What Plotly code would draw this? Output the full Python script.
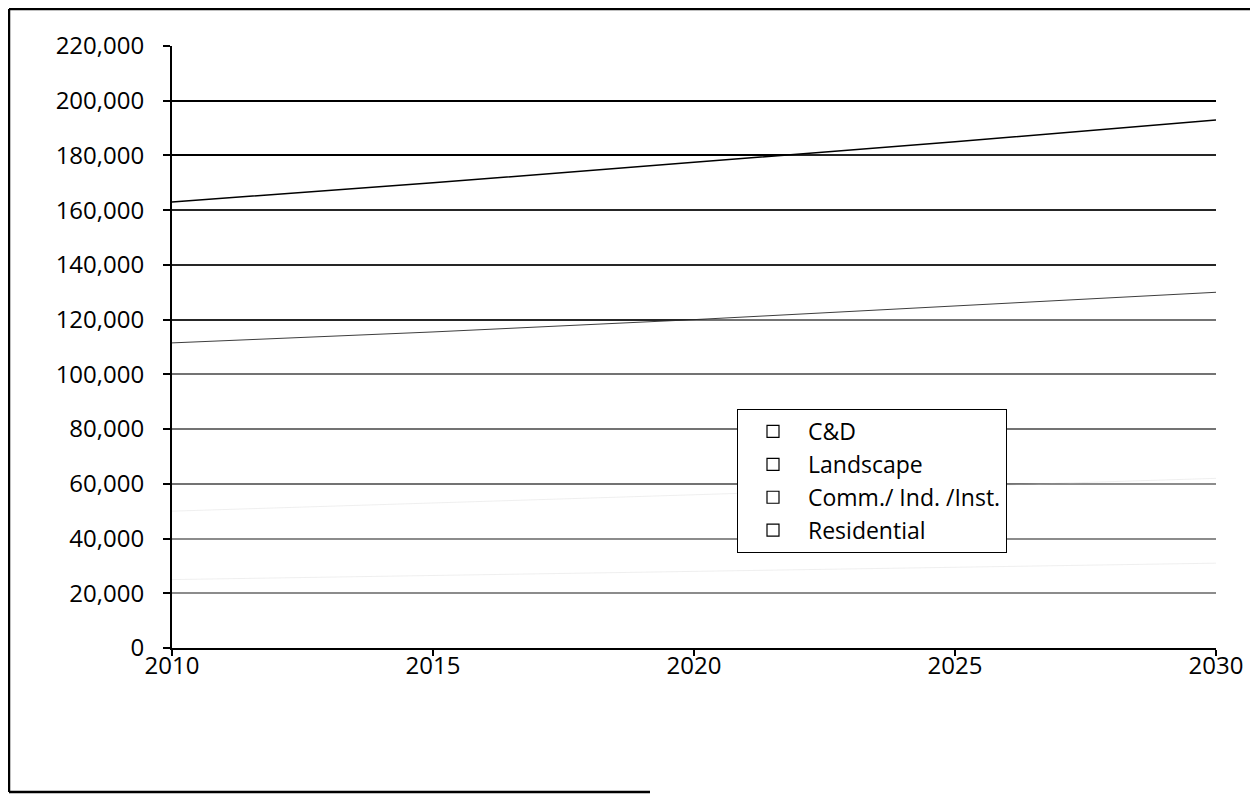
import plotly.graph_objects as go

years = [2010, 2015, 2020, 2025, 2030]
residential = [25000, 26500, 28000, 29500, 31000]
comm_ind_inst = [25000, 26500, 28000, 29500, 31000]
landscape = [61500, 62500, 64000, 66000, 68000]
c_and_d = [51500, 54500, 57500, 60000, 63000]

y_ticks = list(range(0, 220001, 20000))
x_ticks = [2010, 2015, 2020, 2025, 2030]

FONT = "Open Sans, Lato, sans-serif"
FS = 24

fig = go.Figure()
series = [
    ("Residential", residential, "rgba(255,255,255,0.55)", "rgba(200,200,200,0.6)", 0.5),
    ("Comm./ Ind. /Inst.", comm_ind_inst, "rgba(255,255,255,0.55)", "rgba(200,200,200,0.6)", 0.5),
    ("Landscape", landscape, "rgba(255,255,255,0.45)", "rgba(40,40,40,0.9)", 1),
    ("C&D", c_and_d, "rgba(255,255,255,0.15)", "black", 1.5),
]
for name, vals, fc, lc, lw in series:
    fig.add_trace(go.Scatter(
        x=years, y=vals, name=name, mode="lines", stackgroup="one",
        fillcolor=fc, line=dict(color=lc, width=lw), showlegend=False,
    ))
# legend entries (square outline keys as in the reference)
for name, _, _, _, _ in reversed(series):
    fig.add_trace(go.Scatter(
        x=[None], y=[None], name=name, mode="markers",
        marker=dict(symbol="square-open", size=12, color="black", line=dict(width=1.2)),
    ))

W, H = 1250, 787
L, T = 164, 38
PW, PH = 1044, 602

fig.update_layout(
    width=W, height=H,
    margin=dict(l=L, r=W - L - PW, t=T, b=H - T - PH),
    paper_bgcolor="white", plot_bgcolor="white",
    font=dict(family=FONT, size=FS, color="black"),
    showlegend=True,
    legend=dict(
        x=(737 - 172) / PW, y=(648 - 409) / PH, xanchor="left", yanchor="top",
        traceorder="normal",
        bordercolor="black", borderwidth=1,
        bgcolor="white", font=dict(family=FONT, size=23, color="black"),
        itemwidth=60, tracegroupgap=0,
    ),
    xaxis=dict(
        range=[2010, 2030], tickvals=x_ticks, ticktext=[str(v) for v in x_ticks],
        showline=True, linecolor="black", linewidth=2,
        ticks="outside", ticklen=6, tickcolor="black", tickwidth=1.5,
        showgrid=False, zeroline=False, ticklabelstandoff=-11,
        tickfont=dict(family=FONT, size=FS, color="black"),
    ),
    yaxis=dict(
        range=[0, 220000], tickvals=y_ticks, ticktext=[f"{v:,}" for v in y_ticks],
        showline=True, linecolor="black", linewidth=2,
        ticks="outside", ticklen=7, tickcolor="black", tickwidth=1.5,
        showgrid=True, gridcolor="black", gridwidth=1.5, zeroline=False,
        ticklabelstandoff=14,
        tickfont=dict(family=FONT, size=FS, color="black"),
    ),
)

# outer chart frame (left, top, bottom edges as in the scan)
frame = dict(type="line", xref="paper", yref="paper", line=dict(color="black", width=2.5))
x0 = -(L - 1) / PW
x1 = (1256 - 8 - L) / PW
ytop = 1 + (T - 1) / PH
ybot = -(784 - (T + PH)) / PH
fig.add_shape(**frame, x0=x0, x1=x0, y0=ybot, y1=ytop)
fig.add_shape(**frame, x0=x0, x1=x1, y0=ytop, y1=ytop)
fig.add_shape(**frame, x0=x0, x1=(650 - 8 - L) / PW, y0=ybot, y1=ybot)

fig.write_html("out.html")
